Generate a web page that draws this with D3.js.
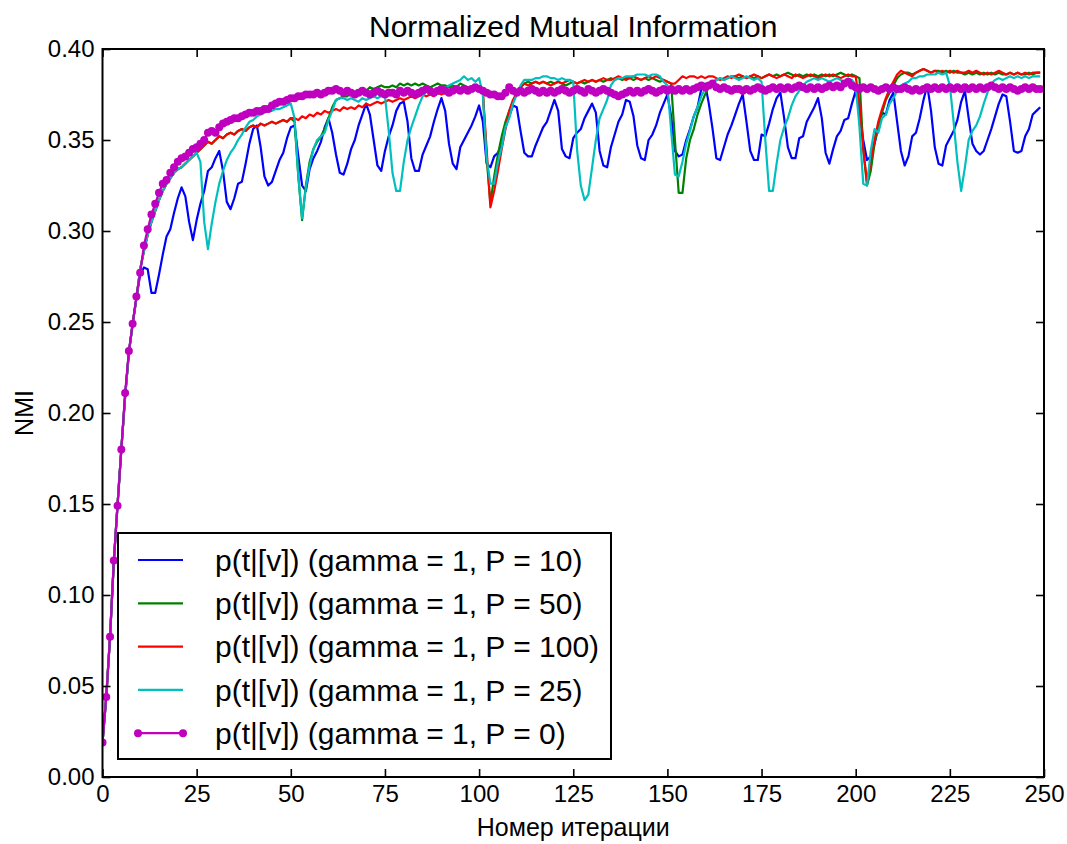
<!DOCTYPE html>
<html>
<head>
<meta charset="utf-8">
<style>
  body { margin: 0; background: #fff; }
  svg { display: block; }
  text { font-family: "Liberation Sans", Arial, sans-serif; fill: #000; }
</style>
</head>
<body>
<svg width="1067" height="844"></svg>
<script src="https://d3js.org/d3.v7.min.js"></script>
<script>

// tick labels
const xTicks = [0, 25, 50, 75, 100, 125, 150, 175, 200, 225, 250];
const yTicks = [0, 0.05, 0.10, 0.15, 0.20, 0.25, 0.30, 0.35, 0.40];

// NMI per iteration, P = 10
const nmiP10 = [
  0.019,0.044,0.077,0.118,0.150,0.180,0.209,0.233,0.249,0.263,
  0.276,0.280,0.279,0.266,0.266,0.276,0.287,0.297,0.301,0.310,
  0.318,0.324,0.319,0.305,0.295,0.306,0.315,0.322,0.333,0.335,
  0.340,0.344,0.333,0.316,0.312,0.318,0.326,0.327,0.337,0.348,
  0.356,0.358,0.346,0.330,0.325,0.327,0.333,0.339,0.343,0.351,
  0.357,0.358,0.341,0.325,0.322,0.334,0.340,0.344,0.349,0.357,
  0.362,0.354,0.342,0.332,0.331,0.337,0.345,0.350,0.358,0.364,
  0.370,0.364,0.350,0.336,0.333,0.344,0.352,0.358,0.366,0.370,
  0.371,0.360,0.340,0.333,0.333,0.342,0.347,0.352,0.360,0.367,
  0.373,0.366,0.348,0.337,0.334,0.346,0.350,0.354,0.358,0.363,
  0.369,0.360,0.337,0.335,0.341,0.343,0.347,0.357,0.363,0.369,
  0.368,0.355,0.343,0.341,0.341,0.347,0.352,0.357,0.360,0.366,
  0.372,0.366,0.345,0.341,0.340,0.351,0.354,0.356,0.362,0.366,
  0.370,0.365,0.344,0.336,0.335,0.346,0.353,0.360,0.364,0.372,
  0.371,0.363,0.347,0.340,0.339,0.350,0.353,0.358,0.365,0.370,
  0.375,0.363,0.344,0.341,0.342,0.350,0.356,0.363,0.368,0.378,
  0.381,0.370,0.356,0.340,0.339,0.346,0.353,0.358,0.364,0.370,
  0.375,0.360,0.344,0.339,0.339,0.353,0.352,0.359,0.367,0.373,
  0.376,0.362,0.346,0.340,0.340,0.351,0.352,0.360,0.364,0.368,
  0.373,0.362,0.343,0.337,0.345,0.352,0.355,0.361,0.362,0.370,
  0.377,0.366,0.350,0.339,0.341,0.348,0.357,0.365,0.364,0.372,
  0.376,0.360,0.344,0.336,0.341,0.352,0.354,0.362,0.372,0.380,
  0.366,0.346,0.337,0.336,0.347,0.351,0.355,0.361,0.371,0.377,
  0.362,0.348,0.344,0.342,0.344,0.350,0.356,0.363,0.370,0.375,
  0.374,0.360,0.344,0.343,0.344,0.352,0.356,0.364,0.366,0.368
];

// P = 50
const nmiP50 = [
  0.019,0.044,0.077,0.118,0.150,0.180,0.209,0.233,0.249,0.263,
  0.279,0.289,0.298,0.305,0.311,0.317,0.322,0.326,0.329,0.332,
  0.334,0.335,0.337,0.339,0.341,0.343,0.345,0.347,0.349,0.348,
  0.350,0.352,0.351,0.353,0.354,0.353,0.355,0.356,0.355,0.357,
  0.358,0.357,0.359,0.358,0.359,0.360,0.359,0.360,0.361,0.360,
  0.362,0.360,0.330,0.306,0.325,0.338,0.345,0.349,0.352,0.356,
  0.362,0.368,0.372,0.373,0.374,0.374,0.376,0.375,0.377,0.378,
  0.377,0.379,0.378,0.379,0.380,0.379,0.379,0.380,0.379,0.381,
  0.380,0.381,0.380,0.381,0.380,0.381,0.380,0.379,0.380,0.381,
  0.380,0.380,0.379,0.380,0.379,0.381,0.380,0.379,0.378,0.379,
  0.378,0.376,0.340,0.315,0.330,0.342,0.352,0.360,0.366,0.371,
  0.375,0.379,0.381,0.382,0.381,0.382,0.381,0.382,0.381,0.382,
  0.381,0.382,0.381,0.380,0.381,0.382,0.381,0.382,0.381,0.382,
  0.383,0.382,0.383,0.382,0.383,0.384,0.383,0.384,0.383,0.384,
  0.384,0.383,0.384,0.383,0.384,0.383,0.384,0.383,0.382,0.383,
  0.382,0.381,0.350,0.321,0.321,0.340,0.350,0.356,0.364,0.370,
  0.375,0.379,0.382,0.383,0.384,0.383,0.384,0.385,0.385,0.384,
  0.385,0.384,0.385,0.384,0.385,0.384,0.385,0.386,0.385,0.386,
  0.385,0.386,0.387,0.386,0.385,0.386,0.385,0.386,0.385,0.386,
  0.385,0.386,0.385,0.386,0.385,0.386,0.387,0.386,0.385,0.386,
  0.385,0.384,0.345,0.325,0.333,0.348,0.358,0.365,0.372,0.376,
  0.380,0.384,0.386,0.387,0.387,0.386,0.387,0.388,0.389,0.388,
  0.387,0.388,0.388,0.387,0.388,0.387,0.388,0.387,0.387,0.386,
  0.387,0.386,0.387,0.386,0.387,0.386,0.387,0.386,0.387,0.386,
  0.386,0.387,0.386,0.387,0.386,0.386,0.387,0.386,0.387,0.387
];

// P = 100
const nmiP100 = [
  0.019,0.044,0.077,0.118,0.150,0.180,0.209,0.233,0.249,0.263,
  0.279,0.289,0.298,0.305,0.311,0.317,0.322,0.326,0.329,0.332,
  0.334,0.335,0.337,0.339,0.341,0.343,0.345,0.347,0.349,0.348,
  0.350,0.352,0.351,0.353,0.354,0.353,0.355,0.356,0.355,0.357,
  0.358,0.357,0.359,0.358,0.359,0.360,0.359,0.360,0.361,0.360,
  0.362,0.362,0.361,0.363,0.362,0.364,0.363,0.365,0.364,0.366,
  0.365,0.366,0.367,0.366,0.368,0.367,0.368,0.367,0.369,0.368,
  0.370,0.369,0.370,0.371,0.370,0.371,0.372,0.371,0.372,0.373,
  0.372,0.373,0.374,0.373,0.374,0.375,0.374,0.375,0.374,0.376,
  0.375,0.376,0.375,0.376,0.377,0.376,0.377,0.376,0.377,0.378,
  0.377,0.376,0.345,0.313,0.322,0.333,0.345,0.356,0.366,0.372,
  0.376,0.379,0.381,0.380,0.381,0.382,0.381,0.382,0.381,0.380,
  0.381,0.382,0.381,0.382,0.383,0.382,0.381,0.382,0.383,0.382,
  0.383,0.382,0.383,0.384,0.383,0.383,0.384,0.385,0.384,0.383,
  0.384,0.385,0.384,0.383,0.384,0.385,0.384,0.385,0.384,0.383,
  0.382,0.381,0.381,0.383,0.385,0.384,0.385,0.385,0.384,0.385,
  0.384,0.385,0.385,0.384,0.383,0.384,0.385,0.384,0.385,0.386,
  0.385,0.384,0.385,0.386,0.385,0.384,0.385,0.386,0.385,0.384,
  0.385,0.386,0.385,0.384,0.386,0.385,0.384,0.385,0.386,0.385,
  0.384,0.385,0.386,0.385,0.386,0.385,0.384,0.385,0.386,0.385,
  0.385,0.370,0.345,0.327,0.338,0.350,0.360,0.367,0.373,0.378,
  0.382,0.386,0.388,0.387,0.386,0.385,0.387,0.388,0.389,0.388,
  0.387,0.388,0.387,0.388,0.387,0.388,0.387,0.388,0.387,0.387,
  0.388,0.387,0.388,0.387,0.386,0.387,0.386,0.387,0.388,0.387,
  0.386,0.387,0.386,0.387,0.386,0.387,0.386,0.387,0.387,0.387
];

// P = 25
const nmiP25 = [
  0.019,0.044,0.077,0.118,0.150,0.180,0.209,0.233,0.249,0.263,
  0.279,0.289,0.298,0.305,0.311,0.317,0.322,0.326,0.329,0.332,
  0.334,0.335,0.337,0.339,0.341,0.343,0.338,0.305,0.290,0.304,
  0.316,0.326,0.333,0.339,0.343,0.346,0.350,0.353,0.357,0.360,
  0.361,0.363,0.364,0.365,0.366,0.366,0.367,0.367,0.368,0.369,
  0.370,0.362,0.330,0.307,0.324,0.336,0.345,0.350,0.352,0.354,
  0.361,0.366,0.372,0.373,0.373,0.372,0.373,0.372,0.371,0.373,
  0.372,0.373,0.374,0.373,0.374,0.374,0.355,0.332,0.322,0.322,
  0.338,0.350,0.357,0.363,0.369,0.374,0.377,0.378,0.377,0.378,
  0.379,0.378,0.380,0.381,0.382,0.383,0.385,0.383,0.384,0.382,
  0.384,0.375,0.340,0.326,0.326,0.338,0.346,0.357,0.362,0.370,
  0.375,0.380,0.383,0.383,0.383,0.384,0.384,0.385,0.385,0.384,
  0.384,0.383,0.384,0.383,0.383,0.382,0.345,0.325,0.317,0.320,
  0.335,0.350,0.362,0.367,0.372,0.380,0.383,0.384,0.384,0.385,
  0.385,0.385,0.386,0.386,0.386,0.385,0.386,0.386,0.385,0.382,
  0.380,0.355,0.331,0.330,0.338,0.348,0.355,0.363,0.368,0.374,
  0.378,0.381,0.382,0.383,0.384,0.383,0.384,0.385,0.384,0.383,
  0.384,0.385,0.384,0.383,0.384,0.382,0.350,0.322,0.322,0.337,
  0.350,0.357,0.362,0.369,0.374,0.377,0.380,0.382,0.383,0.384,
  0.383,0.384,0.383,0.382,0.383,0.384,0.383,0.382,0.383,0.383,
  0.380,0.357,0.326,0.325,0.344,0.356,0.354,0.362,0.364,0.370,
  0.373,0.377,0.380,0.381,0.382,0.384,0.384,0.385,0.385,0.386,
  0.386,0.386,0.387,0.386,0.387,0.380,0.360,0.338,0.322,0.335,
  0.350,0.355,0.358,0.363,0.370,0.376,0.381,0.383,0.384,0.383,
  0.384,0.385,0.384,0.385,0.384,0.385,0.384,0.385,0.385,0.385
];

// P = 0
const nmiP0 = [
  0.019,0.044,0.077,0.119,0.149,0.180,0.211,0.234,0.249,0.264,
  0.277,0.292,0.301,0.309,0.315,0.321,0.326,0.328,0.332,0.335,
  0.338,0.340,0.341,0.343,0.345,0.346,0.348,0.350,0.354,0.355,
  0.354,0.357,0.359,0.360,0.361,0.362,0.362,0.363,0.364,0.365,
  0.365,0.366,0.366,0.367,0.367,0.369,0.370,0.371,0.371,0.372,
  0.373,0.373,0.374,0.374,0.375,0.375,0.375,0.376,0.375,0.376,
  0.377,0.377,0.378,0.377,0.376,0.377,0.376,0.375,0.376,0.377,
  0.376,0.375,0.376,0.377,0.376,0.375,0.376,0.376,0.375,0.377,
  0.376,0.377,0.376,0.375,0.376,0.377,0.378,0.377,0.376,0.377,
  0.378,0.377,0.376,0.377,0.378,0.377,0.378,0.377,0.378,0.379,
  0.378,0.377,0.376,0.375,0.375,0.374,0.374,0.376,0.379,0.377,
  0.376,0.377,0.376,0.377,0.378,0.377,0.376,0.377,0.376,0.377,
  0.376,0.377,0.378,0.377,0.376,0.377,0.378,0.377,0.376,0.378,
  0.377,0.376,0.377,0.378,0.377,0.376,0.375,0.374,0.375,0.376,
  0.377,0.376,0.377,0.376,0.377,0.378,0.377,0.376,0.377,0.378,
  0.377,0.378,0.377,0.378,0.377,0.378,0.377,0.378,0.379,0.380,
  0.379,0.380,0.381,0.379,0.378,0.379,0.378,0.377,0.378,0.378,
  0.377,0.378,0.377,0.378,0.379,0.378,0.377,0.378,0.379,0.378,
  0.379,0.378,0.379,0.378,0.379,0.380,0.379,0.378,0.379,0.378,
  0.379,0.378,0.379,0.380,0.379,0.380,0.379,0.381,0.382,0.380,
  0.379,0.378,0.379,0.378,0.379,0.378,0.377,0.378,0.379,0.378,
  0.379,0.378,0.378,0.379,0.378,0.377,0.378,0.377,0.378,0.379,
  0.378,0.379,0.378,0.379,0.378,0.379,0.378,0.379,0.378,0.379,
  0.378,0.379,0.378,0.379,0.378,0.379,0.380,0.379,0.378,0.379,
  0.378,0.379,0.378,0.377,0.378,0.379,0.378,0.379,0.378,0.378
];

const seriesNames = [
  "p(t|[v]) (gamma = 1, P = 10)",
  "p(t|[v]) (gamma = 1, P = 50)",
  "p(t|[v]) (gamma = 1, P = 100)",
  "p(t|[v]) (gamma = 1, P = 25)",
  "p(t|[v]) (gamma = 1, P = 0)"
];
const seriesColors = ["#0000ff", "#008000", "#ff0000", "#00bfbf", "#bf00bf"];
const seriesValues = [nmiP10, nmiP50, nmiP100, nmiP25, nmiP0];

const series = seriesNames.map((name, k) => ({
  name: name, color: seriesColors[k], values: seriesValues[k], dots: k === 4
}));

const svg = d3.select("svg");
const plotLeft = 102.5, plotRight = 1044, plotTop = 49, plotBottom = 777;

const x = d3.scaleLinear().domain([0, 250]).range([plotLeft, plotRight]);
const y = d3.scaleLinear().domain([0, 0.4]).range([plotBottom, plotTop]);

svg.append("rect").attr("width", 1067).attr("height", 844).attr("fill", "#fff");

svg.append("clipPath").attr("id", "plot-clip")
  .append("rect")
  .attr("x", plotLeft).attr("y", plotTop)
  .attr("width", plotRight - plotLeft).attr("height", plotBottom - plotTop);

// lines
const line = d3.line().x((d, i) => x(i)).y(d => y(d));
const plot = svg.append("g").attr("clip-path", "url(#plot-clip)");

series.forEach(s => {
  plot.append("path")
    .datum(s.values)
    .attr("fill", "none")
    .attr("stroke", s.color)
    .attr("stroke-width", 2.2)
    .attr("stroke-linejoin", "round")
    .attr("d", line);
  if (s.dots) {
    plot.append("g").selectAll("circle").data(s.values).enter().append("circle")
      .attr("cx", (d, i) => x(i))
      .attr("cy", d => y(d))
      .attr("r", 4)
      .attr("fill", s.color);
  }
});

// axes, ticks point inward on all four sides
function styleAxis(g, fontSize) {
  g.select(".domain").remove();
  g.selectAll(".tick line").attr("stroke", "#000").attr("stroke-width", 1.6);
  g.selectAll(".tick text")
    .attr("fill", "#000")
    .style("font-size", fontSize + "px")
    .style("font-family", "'Liberation Sans', Arial, sans-serif");
}

svg.append("g")
  .attr("transform", "translate(0," + plotBottom + ")")
  .call(d3.axisBottom(x).tickValues(xTicks).tickSize(-8).tickPadding(8))
  .call(g => styleAxis(g, 24));

svg.append("g")
  .attr("transform", "translate(" + plotLeft + ",0)")
  .call(d3.axisLeft(y).tickValues(yTicks).tickFormat(d3.format(".2f")).tickSize(-8).tickPadding(8))
  .call(g => styleAxis(g, 24));

svg.append("g")
  .attr("transform", "translate(0," + plotTop + ")")
  .call(d3.axisTop(x).tickValues(xTicks).tickSize(-8).tickFormat(() => ""))
  .call(g => styleAxis(g, 24));

svg.append("g")
  .attr("transform", "translate(" + plotRight + ",0)")
  .call(d3.axisRight(y).tickValues(yTicks).tickSize(-8).tickFormat(() => ""))
  .call(g => styleAxis(g, 24));

// frame
svg.append("rect")
  .attr("x", plotLeft).attr("y", plotTop)
  .attr("width", plotRight - plotLeft).attr("height", plotBottom - plotTop)
  .attr("fill", "none").attr("stroke", "#000").attr("stroke-width", 2);

// titles
svg.append("text")
  .attr("x", (plotLeft + plotRight) / 2).attr("y", 37)
  .attr("text-anchor", "middle")
  .style("font-size", "30px")
  .text("Normalized Mutual Information");

svg.append("text")
  .attr("x", (plotLeft + plotRight) / 2).attr("y", 836)
  .attr("text-anchor", "middle")
  .style("font-size", "25px")
  .text("Номер итерации");

svg.append("text")
  .attr("transform", "translate(33," + ((plotTop + plotBottom) / 2) + ") rotate(-90)")
  .attr("text-anchor", "middle")
  .style("font-size", "25px")
  .text("NMI");

// legend
const legend = svg.append("g");
legend.append("rect")
  .attr("x", 118).attr("y", 533)
  .attr("width", 493).attr("height", 226)
  .attr("fill", "#fff").attr("stroke", "#000").attr("stroke-width", 2);

const rowY = k => 560 + k * 43.3;
series.forEach((s, k) => {
  const row = legend.append("g").attr("transform", "translate(0," + rowY(k) + ")");
  row.append("line")
    .attr("x1", 138).attr("x2", 183)
    .attr("stroke", s.color).attr("stroke-width", 2.2);
  if (s.dots) {
    row.selectAll("circle").data([138, 183]).enter().append("circle")
      .attr("cx", d => d).attr("cy", 0).attr("r", 4).attr("fill", s.color);
  }
  row.append("text")
    .attr("x", 215).attr("y", 0).attr("dy", "0.36em")
    .style("font-size", "30px")
    .text(s.name);
});

</script>
</body>
</html>
